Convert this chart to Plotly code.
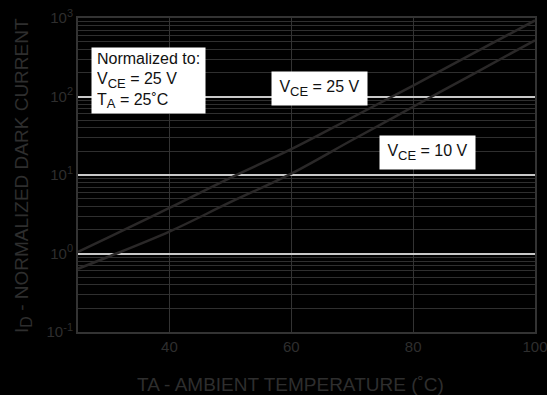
import plotly.graph_objects as go

# Ambient temperature (deg C)
temps = [25, 30, 40, 50, 60, 70, 80, 90, 100]
# Normalized dark current at V_CE = 25 V and V_CE = 10 V
dark_25v = [1.05, 1.6, 3.8, 9.2, 21.3, 54, 138, 359, 930]
dark_10v = [0.64, 0.91, 1.9, 4.5, 10.4, 27.9, 74, 196, 520]

x_ticks = [40, 60, 80, 100]
y_ticks = [0.1, 1, 10, 100, 1000]
y_exponents = ["-1", "0", "1", "2", "3"]
y_minor = [m * 10 ** e for e in (-1, 0, 1, 2) for m in range(2, 10)]


def sup(t):
    return f"<sup><span style='font-size:11px'>{t}</span></sup>"


def sub(t, size=13):
    return f"<sub><span style='font-size:{size}px'>{t}</span></sub>"


y_tick_text = [f"10{sup(e)}" for e in y_exponents]

font_family = "Liberation Sans, Arial, sans-serif"
dim = "#2e2e2e"

fig = go.Figure()
for vals in (dark_25v, dark_10v):
    fig.add_trace(go.Scatter(x=temps, y=vals, mode="lines", line_shape="spline",
                             line=dict(color="#2a2828", width=2.5), showlegend=False))

fig.update_layout(
    width=547, height=395,
    margin=dict(l=78, r=12, t=18, b=63),
    paper_bgcolor="#000000", plot_bgcolor="#000000",
    font=dict(family=font_family, color=dim, size=14),
    xaxis=dict(range=[25, 100], tickvals=x_ticks, ticks="", showgrid=True, automargin=False,
               ticklabeloverflow="allow",
               gridcolor="#333333", gridwidth=1, zeroline=False,
               showline=True, linecolor="#333333", linewidth=2, mirror=True,
               tickfont=dict(size=15, color=dim)),
    yaxis=dict(type="log", range=[-1, 3], tickvals=y_ticks, ticktext=y_tick_text, automargin=False,
               ticks="", showgrid=True, gridcolor="#c8c8c8", gridwidth=1.5, zeroline=False,
               showline=True, linecolor="#333333", linewidth=2, mirror=True,
               tickfont=dict(size=15, color=dim),
               minor=dict(tickvals=y_minor, showgrid=True, gridcolor="#2f2f2f", gridwidth=1)),
)

# Axis titles
title_font = dict(size=19, color=dim, family=font_family)
fig.add_annotation(text="TA - AMBIENT TEMPERATURE (˚C)", xref="paper", yref="paper",
                   x=0.464, y=-0.166, xanchor="center", yanchor="middle",
                   showarrow=False, font=title_font)
fig.add_annotation(text="I" + sub("D", 16) + " - NORMALIZED DARK CURRENT", xref="paper", yref="paper",
                   x=-0.1204, y=0.5, xanchor="center", yanchor="middle", textangle=-90,
                   showarrow=False, font=title_font)

box = dict(bgcolor="#ffffff", font=dict(color="#111111", size=16, family=font_family),
           showarrow=False, xref="x", yref="y", borderpad=5,
           xanchor="center", yanchor="middle")
fig.add_annotation(x=36.6, y=2.20, width=103, height=55, align="left",
                   text="Normalized to:<br>V" + sub("CE") + " = 25 V<br>T" + sub("A") + " = 25˚C", **box)
fig.add_annotation(x=64.6, y=2.107, width=85, height=23,
                   text="V" + sub("CE") + " = 25 V", **box)
fig.add_annotation(x=82.3, y=1.288, width=85, height=23,
                   text="V" + sub("CE") + " = 10 V", **box)

fig.write_html("out.html")
